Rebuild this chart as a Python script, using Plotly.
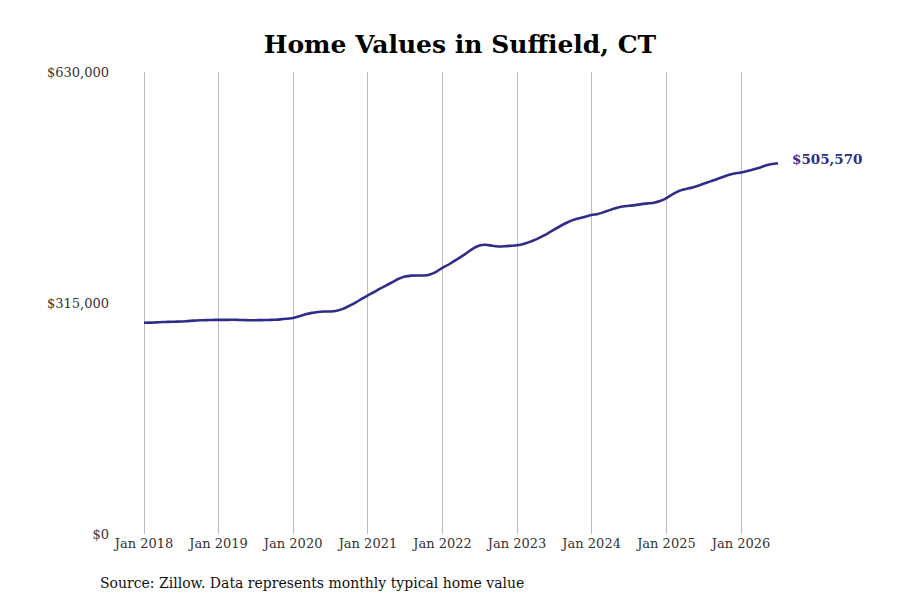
import plotly.graph_objects as go
import pandas as pd

months = pd.date_range("2018-01-01", "2026-07-01", freq="MS")

values_2018 = [288000, 288200, 288600, 289000, 289300, 289500, 289700, 290300, 290900, 291400, 291700, 291900]
values_2019 = [292000, 292000, 292100, 292000, 291800, 291500, 291500, 291700, 291900, 292200, 292700, 293500]
values_2020 = [294500, 297000, 299500, 301500, 302800, 303400, 303500, 304500, 307000, 311000, 315500, 320500]
values_2021 = [325500, 330000, 334500, 339000, 343500, 348000, 351000, 352300, 352500, 352500, 354000, 357500]
values_2022 = [363000, 367500, 372500, 378000, 383500, 389500, 393500, 394500, 393000, 392000, 392300, 393000]
values_2023 = [393800, 395500, 398000, 401500, 405500, 410000, 415000, 420000, 424500, 428000, 430500, 432500]
values_2024 = [435000, 436500, 439000, 442000, 444500, 446500, 447500, 448500, 449800, 450800, 451800, 454000]
values_2025 = [458000, 463500, 467500, 470000, 472000, 474500, 477500, 480500, 483500, 486500, 489500, 491500]
values_2026 = [493000, 495000, 497000, 499500, 502500, 504500, 505570]

values = (values_2018 + values_2019 + values_2020 + values_2021 + values_2022
          + values_2023 + values_2024 + values_2025 + values_2026)

year_ticks = pd.date_range("2018-01-01", "2026-01-01", freq="YS")
y_ticks = [0, 315000, 630000]
y_labels = ["$0", "$315,000", "$630,000"]

line_color = "#302d8a"
serif = "DejaVu Serif"

# the page body has an 8px margin, so the figure is a bit smaller and shifted
fig_w, fig_h = 884, 584
plot_w = 760

# place Jan 2018 and Jan 2026 on the same pixels as the reference
px_per_year = 74.625
x_start = pd.Timestamp("2018-01-01") - pd.Timedelta(days=34 / px_per_year * 365.25)
x_end = x_start + pd.Timedelta(days=plot_w / px_per_year * 365.25)

fig = go.Figure()
fig.add_trace(go.Scatter(
    x=months,
    y=values,
    mode="lines",
    line=dict(color=line_color, width=2.6, shape="spline", smoothing=0.6),
    hoverinfo="skip",
    showlegend=False,
))

fig.add_annotation(
    x=months[-1], y=values[-1],
    text="<b>${:,}</b>".format(values[-1]),
    showarrow=False, xanchor="left", xshift=12, yshift=4,
    font=dict(family=serif, size=13.5, color=line_color),
)

fig.add_annotation(
    x=0, y=0, xref="paper", yref="paper",
    text="Source: Zillow. Data represents monthly typical home value",
    showarrow=False, xanchor="left", yanchor="top",
    xshift=-12, yshift=-39,
    font=dict(family=serif, size=14, color="#111111"),
)

fig.update_layout(
    title=dict(text="<b>Home Values in Suffield, CT</b>", x=0.5 + 10 / fig_w, xanchor="center",
               y=1 - 36 / fig_h, yanchor="middle",
               font=dict(family=serif, size=25, color="#000000")),
    width=fig_w, height=fig_h,
    margin=dict(l=102, r=fig_w - 102 - plot_w, t=64, b=58),
    plot_bgcolor="white",
    paper_bgcolor="white",
    font=dict(family=serif, size=13, color="#333333"),
    xaxis=dict(
        range=[x_start, x_end],
        tickvals=year_ticks,
        tickformat="%b %Y",
        showgrid=True, gridcolor="#bdbdbd", gridwidth=1,
        zeroline=False, showline=False, ticks="",
        tickfont=dict(family=serif, size=13, color="#333333"),
    ),
    yaxis=dict(
        range=[0, 630000],
        tickvals=y_ticks,
        ticktext=y_labels,
        showgrid=False, zeroline=False, showline=False, ticks="",
        tickfont=dict(family=serif, size=13, color="#333333"),
    ),
)

fig.write_html("out.html")
